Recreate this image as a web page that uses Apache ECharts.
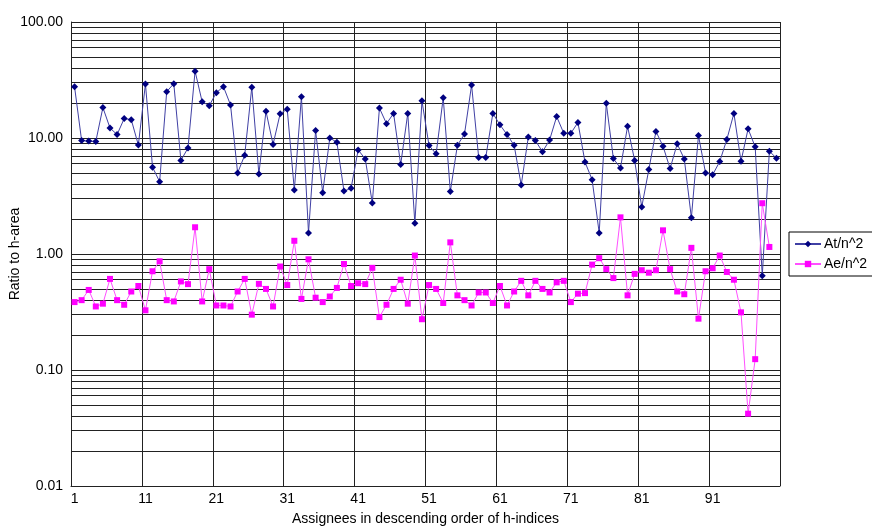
<!DOCTYPE html>
<html>
<head>
<meta charset="utf-8">
<script src="https://cdn.jsdelivr.net/npm/echarts@6/dist/echarts.min.js"></script>
<style>
  html, body { margin: 0; padding: 0; background: #fff; }
  #main { width: 872px; height: 526px; }
</style>
</head>
<body>
<div id="main"></div>
<script>
// At/n^2 ratio per assignee (100 assignees)
var atValues = [
  27.7, 9.5, 9.4, 9.35, 18.3, 12.2, 10.7, 14.7, 14.4, 8.7,
  29.2, 5.6, 4.2, 25.1, 29.4, 6.4, 8.2, 37.7, 20.5, 19.0,
  24.6, 27.7, 19.3, 5.0, 7.1, 27.4, 4.9, 17.0, 8.8, 16.2,
  17.7, 3.56, 22.7, 1.52, 11.6, 3.38, 10.0, 9.2, 3.49, 3.68,
  7.9, 6.6, 2.75, 18.1, 13.3, 16.3, 5.9, 16.3, 1.84, 20.9,
  8.6, 7.3, 22.2, 3.45, 8.65, 10.8, 28.6, 6.8, 6.8, 16.3,
  13.0, 10.7, 8.65, 3.93, 10.2, 9.5, 7.6, 9.6, 15.3, 11.0,
  11.0, 13.6, 6.2, 4.37, 1.52, 19.9, 6.65, 5.5, 12.6, 6.4,
  2.54, 5.35, 11.4, 8.5, 5.45, 8.9, 6.6, 2.05, 10.5, 5.0,
  4.82, 6.27, 9.7, 16.3, 6.3, 12.0, 8.4, 0.65, 7.7, 6.7
]
// Ae/n^2 ratio per assignee (last one has no value)
var aeValues = [
  0.385, 0.40, 0.49, 0.353, 0.373, 0.61, 0.40, 0.365, 0.475, 0.53,
  0.327, 0.71, 0.865, 0.40, 0.39, 0.58, 0.55, 1.70, 0.39, 0.74,
  0.36, 0.36, 0.353, 0.475, 0.61, 0.30, 0.553, 0.50, 0.353, 0.78,
  0.54, 1.30, 0.41, 0.90, 0.42, 0.385, 0.43, 0.51, 0.82, 0.53,
  0.56, 0.55, 0.76, 0.286, 0.365, 0.50, 0.60, 0.373, 0.97, 0.274,
  0.54, 0.50, 0.378, 1.26, 0.44, 0.40, 0.36, 0.466, 0.466, 0.378,
  0.53, 0.36, 0.475, 0.587, 0.44, 0.587, 0.50, 0.466, 0.57, 0.587,
  0.385, 0.455, 0.46, 0.81, 0.92, 0.74, 0.62, 2.07, 0.44, 0.674,
  0.725, 0.69, 0.725, 1.60, 0.74, 0.475, 0.45, 1.13, 0.277, 0.71,
  0.754, 0.97, 0.70, 0.60, 0.314, 0.042, 0.124, 2.74, 1.15, null
]
var seriesNames = ['At/n^2', 'Ae/n^2']
var decades = [0.01, 0.1, 1, 10]

// assignee ranks 1..100
var categories = []
for (var i = 0; i < atValues.length; i++) categories.push(String(i + 1))

// log gridlines at 1..9 of every decade, like the excel chart
var gridLines = []
decades.forEach(function (d) {
  for (var k = 1; k <= 9; k++) gridLines.push({ yAxis: +(k * d).toPrecision(3) })
})
gridLines.push({ yAxis: 100 })

var chart = echarts.init(document.getElementById('main'), null, { renderer: 'canvas' })
var font = 'Liberation Sans, Arial, sans-serif'

var option = {
  backgroundColor: '#fff',
  animation: false,
  textStyle: { fontFamily: font },
  grid: { left: 71, right: 92, top: 22, bottom: 40, containLabel: false, outerBoundsMode: 'none' },
  legend: {
    orient: 'vertical',
    left: 789,
    top: 232,
    data: seriesNames,
    borderColor: '#000',
    borderWidth: 1,
    borderRadius: 0,
    padding: [5, 10, 5, 5],
    itemWidth: 26,
    itemHeight: 8,
    itemGap: 6,
    textStyle: { fontFamily: font, fontSize: 14, color: '#000', padding: [0, 0, 0, -2] }
  },
  xAxis: {
    type: 'category',
    data: categories,
    boundaryGap: true,
    name: 'Assignees in descending order of h-indices',
    nameLocation: 'middle',
    nameGap: 26,
    nameMoveOverlap: false,
    nameTextStyle: { fontFamily: font, fontSize: 14, color: '#000' },
    axisLine: { show: true, lineStyle: { color: '#222', width: 1 } },
    axisTick: { show: false, interval: 9 },
    axisLabel: { interval: 9, fontFamily: font, fontSize: 14, color: '#000', margin: 6 },
    splitLine: { show: true, interval: 9, lineStyle: { color: '#222', width: 1 } }
  },
  yAxis: {
    type: 'log',
    logBase: 10,
    min: 0.01,
    max: 100,
    name: 'Ratio to h-area',
    nameLocation: 'middle',
    nameGap: 49,
    nameMoveOverlap: false,
    nameTextStyle: { fontFamily: font, fontSize: 14, color: '#000' },
    axisLine: { show: true, lineStyle: { color: '#222', width: 1 } },
    axisTick: { show: false },
    axisLabel: {
      fontFamily: font, fontSize: 14, color: '#000', margin: 8,
      formatter: function (v) { return v.toFixed(2) }
    },
    splitLine: { show: false }
  },
  series: [
    {
      name: seriesNames[0],
      type: 'line',
      data: atValues,
      symbol: 'diamond',
      symbolSize: 7,
      showAllSymbol: true,
      itemStyle: { color: '#000080' },
      lineStyle: { color: '#4040a4', width: 1 },
      z: 3,
      markLine: {
        silent: true,
        symbol: ['none', 'none'],
        label: { show: false },
        lineStyle: { color: '#222', width: 1, type: 'solid' },
        data: gridLines,
        z: 1
      }
    },
    {
      name: seriesNames[1],
      type: 'line',
      data: aeValues,
      symbol: 'rect',
      symbolSize: 6,
      showAllSymbol: true,
      itemStyle: { color: '#ff00ff' },
      lineStyle: { color: '#ff50ff', width: 1 },
      z: 4
    }
  ]
}
chart.setOption(option)
</script>
</body>
</html>
